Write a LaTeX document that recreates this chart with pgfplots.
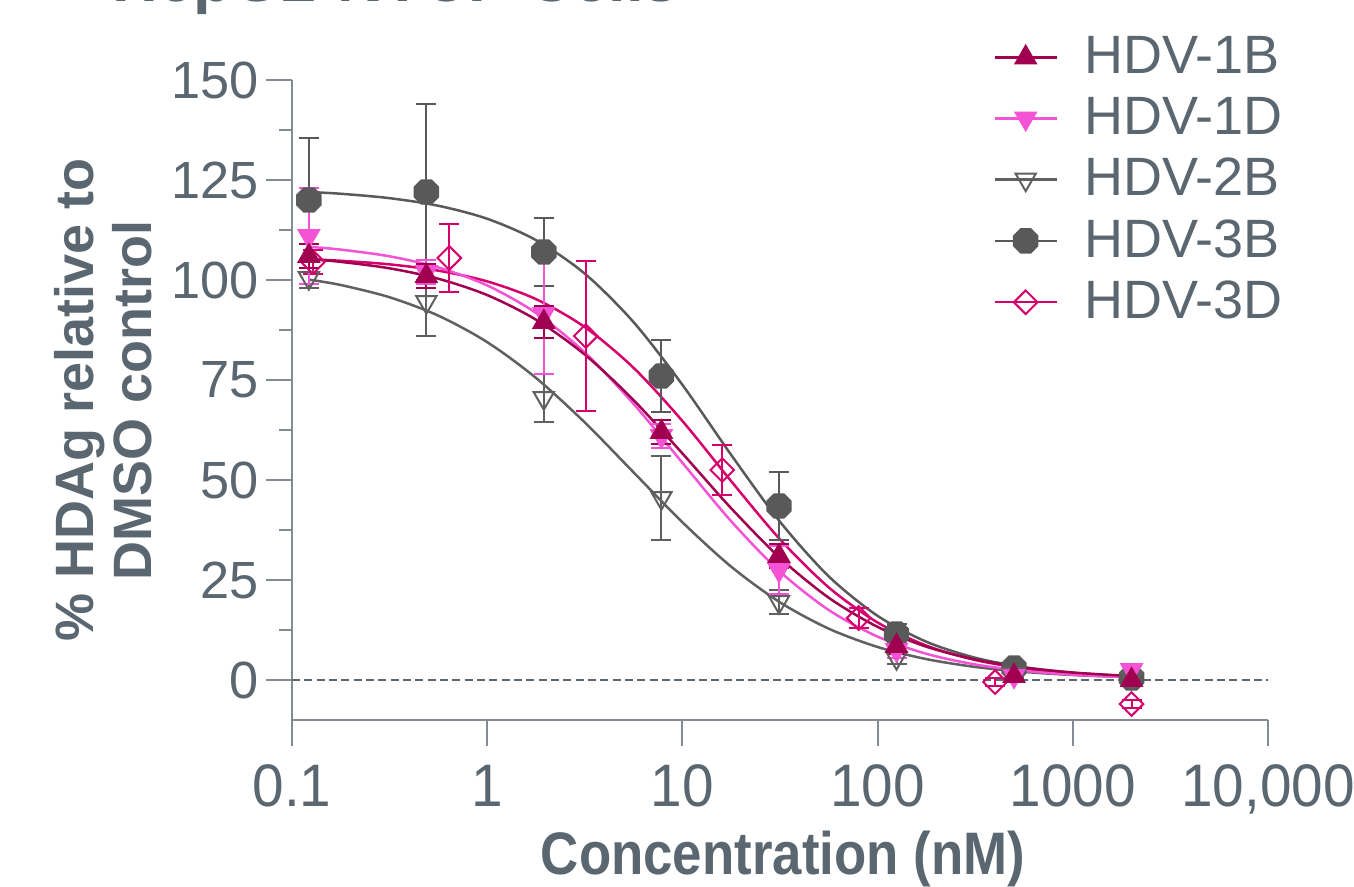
\documentclass[border=0pt]{standalone}
\usepackage{fontspec}
\setmainfont{Liberation Sans}
\newfontfamily\tallsans[FakeStretch=0.945]{Liberation Sans}
\newfontfamily\tallbold[FakeStretch=0.88]{Liberation Sans Bold}
\usepackage{pgfplots}
\usepackage{pgfplotstable}
\pgfplotsset{compat=1.18}

\definecolor{cOneB}{HTML}{A0004F}
\definecolor{cOneD}{HTML}{F553D5}
\definecolor{cTwoB}{HTML}{606060}
\definecolor{cThreeB}{HTML}{595959}
\definecolor{cThreeD}{HTML}{D5006B}
\definecolor{textc}{HTML}{5B6770}
\definecolor{axisc}{HTML}{838C94}

\pgfdeclareplotmark{oct*}{%
  \pgfpathmoveto{\pgfqpointpolar{22.5}{\pgfplotmarksize}}%
  \pgfpathlineto{\pgfqpointpolar{67.5}{\pgfplotmarksize}}%
  \pgfpathlineto{\pgfqpointpolar{112.5}{\pgfplotmarksize}}%
  \pgfpathlineto{\pgfqpointpolar{157.5}{\pgfplotmarksize}}%
  \pgfpathlineto{\pgfqpointpolar{202.5}{\pgfplotmarksize}}%
  \pgfpathlineto{\pgfqpointpolar{247.5}{\pgfplotmarksize}}%
  \pgfpathlineto{\pgfqpointpolar{292.5}{\pgfplotmarksize}}%
  \pgfpathlineto{\pgfqpointpolar{337.5}{\pgfplotmarksize}}%
  \pgfpathclose\pgfusepathqfillstroke}

% measured points: x (nM), y (%), error
\pgfplotstableread{
x y e
0.122 106 3
0.488 101 3
1.95 89.5 4
7.81 62 3
31.25 31 3
125 8.5 2
500 1 1
2000 0 1
}\dOneB
\pgfplotstableread{
x y e
0.122 111 12
0.488 102 3
1.95 91.5 15
7.81 61 3
31.25 27.5 6
125 7.5 2
500 1 1
2000 2.5 1
}\dOneD
\pgfplotstableread{
x y e
0.122 100.5 2.5
0.488 94.5 8.5
1.95 70.5 6
7.81 45.5 10.5
31.25 19.5 3
125 5.5 1.5
500 1.5 1
2000 0.5 0.5
}\dTwoB
\pgfplotstableread{
x y e
0.122 120 15.5
0.488 122 22
1.95 107 8.5
7.81 76 9
31.25 43.5 8.5
125 11.5 2.5
500 3 1
2000 0.5 1
}\dThreeB
\pgfplotstableread{
x y e
0.128 104.5 3
0.64 105.5 8.5
3.2 86 18.75
16 52.5 6.25
80 15.5 2.5
400 -0.5 1
2000 -6 1
}\dThreeD

\newcommand{\xtickfont}{\fontsize{18}{18}\selectfont\tallsans}
\newcommand{\ytickfont}{\fontsize{15.7}{15.7}\selectfont}
\newcommand{\labfont}{\fontsize{16.2}{17.4}\selectfont\bfseries}

\pgfplotsset{
  pts/.style={forget plot, only marks, mark size=#1,
    error bars/y dir=both, error bars/y explicit},
  fitline/.style={forget plot, no marks, smooth, line width=0.75pt},
}

\begin{document}
\begin{tikzpicture}
\useasboundingbox (0,0) rectangle (406.2pt,265.8pt);
\node[anchor=base west, inner sep=0pt, text=textc,
  font=\fontsize{19}{19}\selectfont\bfseries] at (33.6pt,265.4pt) {HepG2-NTCP Cells};
\begin{axis}[
  scale only axis,
  width=292.8pt, height=192pt,
  at={(87.6pt,49.8pt)}, anchor=south west,
  xmode=log, log basis x=10,
  xmin=0.1, xmax=10000, ymin=-10, ymax=150,
  axis x line*=bottom, axis y line*=left,
  axis line style={axisc, line width=0.6pt, -},
  tick align=outside,
  major tick length=7.8pt, minor tick length=3.9pt,
  every tick/.style={axisc, line width=0.6pt},
  xtick={0.1,1,10,100,1000,10000},
  xticklabels={0.1,1,10,100,1000,{10,000}},
  ytick={0,25,50,75,100,125,150},
  yticklabels={0,25,50,75,100,125,150},
  minor ytick={12.5,37.5,62.5,87.5,112.5,137.5},
  /pgf/number format/assume math mode=true,
  xticklabel style={font=\xtickfont, text=textc, yshift=-2.1pt},
  yticklabel style={font=\ytickfont, text=textc, xshift=1.4pt},
  xlabel={Concentration (nM)},
  ylabel={\% HDAg relative to\\DMSO control},
  xlabel style={font=\fontsize{18}{18}\selectfont\tallbold, text=textc, anchor=base,
    at={(axis description cs:0.503,-0.241)}},
  ylabel style={font=\labfont, text=textc, align=center, anchor=center,
    at={(axis description cs:-0.193,0.500)}},
  legend image code/.code={%
    \draw[mark repeat=2, mark phase=2, #1]
      plot coordinates {(0pt,0pt) (9.3pt,0pt) (18.6pt,0pt)};},
  legend style={at={(axis description cs:0.718,1.069)}, anchor=north west,
    draw=none, fill=none, inner sep=0pt, row sep=5.6pt,
    font=\fontsize{16.2}{16.2}\selectfont, text=textc,
    nodes={inner sep=0pt},
    /tikz/every odd column/.append style={column sep=8.0pt}},
  legend cell align=left,
  clip=false,
]
% legend entries in the reference order
\addlegendimage{cOneB, line width=0.75pt, mark=triangle*, mark size=3.5pt,
  mark options={fill=cOneB, line width=0.6pt}}
\addlegendentry{HDV-1B}
\addlegendimage{cOneD, line width=0.75pt, mark=triangle*, mark size=3.5pt,
  mark options={fill=cOneD, rotate=180, line width=0.6pt}}
\addlegendentry{HDV-1D}
\addlegendimage{cTwoB, line width=0.75pt, mark=triangle, mark size=3.5pt,
  mark options={fill=white, rotate=180, line width=0.6pt}}
\addlegendentry{HDV-2B}
\addlegendimage{cThreeB, line width=0.75pt, mark=oct*, mark size=3.8pt,
  mark options={fill=cThreeB, line width=0.6pt}}
\addlegendentry{HDV-3B}
\addlegendimage{cThreeD, line width=0.75pt, mark=square, mark size=2.5pt,
  mark options={fill=white, rotate=45, line width=0.6pt}}
\addlegendentry{HDV-3D}

% zero reference line
\addplot[forget plot, textc, line width=0.6pt, dash pattern=on 2.4pt off 1.3pt]
  coordinates {(0.1,0) (10000,0)};

% fitted curves, read off the reference
\addplot[fitline, cThreeB] coordinates {
(0.122,122.0) (0.178,121.56) (0.316,120.46) (0.562,118.56) (1,115.31)
(1.778,109.97) (3.162,101.59) (5.623,89.46) (10,73.8) (17.78,56.28)
(31.62,39.57) (56.23,25.90) (100,16.04) (177.8,9.57) (316.2,5.57)
(562.3,3.20) (1000,1.82) (1778,1.03) (2000,0.92)};
\addplot[fitline, cTwoB] coordinates {
(0.122,100.1) (0.178,98.74) (0.316,95.69) (0.562,91.09) (1,84.47)
(1.778,75.52) (3.162,64.39) (5.623,51.91) (10,39.44) (17.78,28.34)
(31.62,19.42) (56.23,12.83) (100,8.26) (177.8,5.23) (316.2,3.27)
(562.3,2.03) (1000,1.25) (1778,0.77) (2000,0.70)};
\addplot[fitline, cThreeD] coordinates {
(0.128,105.14) (0.178,104.81) (0.316,103.91) (0.562,102.34) (1,99.65)
(1.778,95.22) (3.162,88.23) (5.623,78.04) (10,64.76) (17.78,49.71)
(31.62,35.17) (56.23,23.14) (100,14.38) (177.8,8.60) (316.2,5.01)
(562.3,2.88) (1000,1.64) (1778,0.93) (2000,0.83)};
\addplot[fitline, cOneD] coordinates {
(0.122,108.31) (0.178,107.60) (0.316,105.92) (0.562,103.14) (1,98.65)
(1.778,91.76) (3.162,81.88) (5.623,69.03) (10,54.31) (17.78,39.69)
(31.62,27.09) (56.23,17.49) (100,10.85) (177.8,6.55) (316.2,3.89)
(562.3,2.29) (1000,1.33) (1778,0.78) (2000,0.69)};
\addplot[fitline, cOneB] coordinates {
(0.122,105.23) (0.178,104.53) (0.316,102.92) (0.562,100.32) (1,96.23)
(1.778,90.08) (3.162,81.35) (5.623,69.97) (10,56.65) (17.78,42.94)
(31.62,30.53) (56.23,20.56) (100,13.28) (177.8,8.33) (316.2,5.12)
(562.3,3.11) (1000,1.87) (1778,1.12) (2000,1.01)};

% data points with error bars
\addplot[pts=3.8pt, mark=oct*, cThreeB, mark options={fill=cThreeB, line width=0.6pt},
  error bars/error bar style={cThreeB, line width=0.6pt},
  error bars/error mark options={cThreeB, rotate=90, mark size=3pt, line width=0.6pt}]
  table[x=x, y=y, y error=e] {\dThreeB};
\addplot[pts=3.5pt, mark=triangle, cTwoB,
  mark options={fill=white, rotate=180, line width=0.6pt},
  error bars/error bar style={cTwoB, line width=0.6pt},
  error bars/error mark options={cTwoB, rotate=90, mark size=3pt, line width=0.6pt}]
  table[x=x, y=y, y error=e] {\dTwoB};
\addplot[pts=2.5pt, mark=square, cThreeD,
  mark options={fill=white, rotate=45, line width=0.6pt},
  error bars/error bar style={cThreeD, line width=0.6pt},
  error bars/error mark options={cThreeD, rotate=90, mark size=3pt, line width=0.6pt}]
  table[x=x, y=y, y error=e] {\dThreeD};
\addplot[pts=3.5pt, mark=triangle*, cOneD,
  mark options={fill=cOneD, rotate=180, line width=0.6pt},
  error bars/error bar style={cOneD, line width=0.6pt},
  error bars/error mark options={cOneD, rotate=90, mark size=3pt, line width=0.6pt}]
  table[x=x, y=y, y error=e] {\dOneD};
\addplot[pts=3.5pt, mark=triangle*, cOneB,
  mark options={fill=cOneB, line width=0.6pt},
  error bars/error bar style={cOneB, line width=0.6pt},
  error bars/error mark options={cOneB, rotate=90, mark size=3pt, line width=0.6pt}]
  table[x=x, y=y, y error=e] {\dOneB};
\end{axis}
\end{tikzpicture}
\end{document}
